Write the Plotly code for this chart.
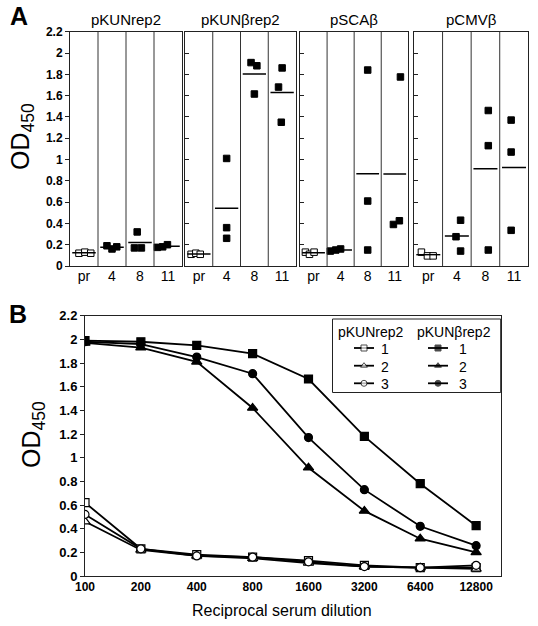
import math
import plotly.graph_objects as go

W, H = 538, 626


def fx(p):
    return p / W


def fy(p):
    return 1 - p / H


# ---------------- Panel A data ----------------
constructs = ["pKUNrep2", "pKUNβrep2", "pSCAβ", "pCMVβ"]
timepoints = ["pr", "4", "8", "11"]
od_pKUNrep2 = [[0.12, 0.13, 0.12], [0.19, 0.16, 0.18], [0.32, 0.17, 0.17], [0.175, 0.18, 0.20]]
od_pKUNbrep2 = [[0.11, 0.12, 0.11], [1.01, 0.36, 0.26], [1.91, 1.88, 1.615], [1.86, 1.68, 1.35]]
od_pSCAb = [[0.13, 0.11, 0.13], [0.14, 0.15, 0.16], [1.84, 0.61, 0.15], [1.775, 0.39, 0.425]]
od_pCMVb = [[0.13, 0.095, 0.095], [0.43, 0.275, 0.14], [1.46, 1.13, 0.15], [1.37, 1.07, 0.335]]
panel_a_values = [od_pKUNrep2, od_pKUNbrep2, od_pSCAb, od_pCMVb]

# ---------------- Panel B data ----------------
dilutions = [100, 200, 400, 800, 1600, 3200, 6400, 12800]
dilution_labels = ["100", "200", "400", "800", "1600", "3200", "6400", "12800"]
rep2_1 = [0.62, 0.23, 0.18, 0.16, 0.13, 0.09, 0.07, 0.07]
rep2_2 = [0.46, 0.22, 0.17, 0.15, 0.11, 0.08, 0.07, 0.06]
rep2_3 = [0.52, 0.23, 0.17, 0.16, 0.12, 0.08, 0.07, 0.09]
brep2_1 = [1.99, 1.98, 1.95, 1.88, 1.665, 1.18, 0.78, 0.425]
brep2_2 = [1.97, 1.93, 1.81, 1.42, 0.915, 0.55, 0.315, 0.20]
brep2_3 = [1.98, 1.96, 1.85, 1.71, 1.17, 0.73, 0.42, 0.256]
legend_groups = ["pKUNrep2", "pKUNβrep2"]
legend_items = ["1", "2", "3"]

# ---------------- styles / layout helpers ----------------
FONT = "Liberation Sans"
jitter = [
    [[-0.18, 0.03, 0.24], [-0.18, 0.0, 0.17], [-0.1, -0.2, 0.05], [-0.38, -0.19, -0.02]],
    [[-0.28, -0.11, 0.05], [0.0, 0.0, 0.0], [-0.12, 0.09, 0.0], [0.0, -0.13, -0.03]],
    [[-0.3, -0.15, 0.02], [-0.38, -0.18, 0.0], [0.0, 0.0, 0.0], [0.21, -0.05, 0.17]],
    [[-0.24, -0.03, 0.17], [0.13, -0.03, 0.13], [0.1, 0.1, 0.1], [-0.1, -0.1, -0.1]],
]
a_xdomains = [(70, 182), (185, 296), (300, 408.3), (414, 528.3)]
a_ydomain = (fy(266), fy(31.7))
b_xdomain = (fx(85), fx(500.7))
b_ydomain = (fy(576), fy(315.7))

fig = go.Figure()
shapes = []
annotations = []

for k, (name, vals) in enumerate(zip(constructs, panel_a_values)):
    n = k + 1
    xa = "x" if n == 1 else f"x{n}"
    ya = "y" if n == 1 else f"y{n}"
    for i, group in enumerate(vals):
        xs = [i + jitter[k][i][j] for j in range(len(group))]
        is_pre = timepoints[i] == "pr"
        fig.add_trace(go.Scatter(
            x=xs, y=group, mode="markers", xaxis=xa, yaxis=ya, showlegend=False,
            marker=dict(symbol="square", size=6.5,
                        color="white" if is_pre else "black",
                        line=dict(color="black", width=1)),
        ))
        mean = sum(group) / len(group)
        shapes.append(dict(type="line", xref=xa, yref=ya, x0=i - 0.42, x1=i + 0.42,
                           y0=mean, y1=mean, line=dict(color="black", width=1.5)))
    for d in [0.5, 1.5, 2.5]:
        shapes.append(dict(type="line", xref=xa, yref=f"{ya} domain", x0=d, x1=d,
                           y0=0, y1=1, line=dict(color="#333", width=1)))
    xkey = "xaxis" if n == 1 else f"xaxis{n}"
    ykey = "yaxis" if n == 1 else f"yaxis{n}"
    dom = a_xdomains[k]
    fig.update_layout({
        xkey: dict(domain=[fx(dom[0]), fx(dom[1])], range=[-0.5, 3.5], anchor=ya,
                   automargin=False,
                   tickmode="array", tickvals=list(range(len(timepoints))), ticktext=timepoints,
                   ticks="", showgrid=False, zeroline=False, showline=True, mirror=True,
                   linecolor="#222", linewidth=1, ticklabelstandoff=-3,
                   tickfont=dict(family=FONT, size=14, color="black")),
        ykey: dict(domain=list(a_ydomain), range=[0, 2.2], anchor=xa, dtick=0.2, tick0=0,
                   automargin=False,
                   showgrid=False, zeroline=False, showline=True, mirror=True,
                   linecolor="#222", linewidth=1,
                   ticks="outside" if n == 1 else "inside", ticklen=4,
                   tickcolor="#222", showticklabels=(n == 1),
                   tickfont=dict(family=FONT, size=12, color="black", weight="bold")),
    })
    annotations.append(dict(text=name, x=fx((dom[0] + dom[1]) / 2), y=fy(20),
                            xanchor="center", yanchor="middle",
                            font=dict(family=FONT, size=15, color="black")))

# Panel B traces
b_series = [
    (rep2_1, "square", 8, False),
    (rep2_2, "triangle-up", 9, False),
    (rep2_3, "circle", 8, False),
    (brep2_1, "square", 8, True),
    (brep2_2, "triangle-up", 9, True),
    (brep2_3, "circle", 8, True),
]
for ys, sym, sz, filled in b_series:
    fig.add_trace(go.Scatter(
        x=dilutions, y=ys, mode="lines+markers", showlegend=False,
        xaxis="x5", yaxis="y5",
        line=dict(color="black", width=1.8),
        marker=dict(symbol=sym, size=sz,
                    color="black" if filled else "white",
                    line=dict(color="black", width=1.2)),
    ))

fig.update_layout(
    xaxis5=dict(domain=list(b_xdomain), type="log", anchor="y5", automargin=False,
                range=[math.log10(100), math.log10(12800) + 0.44 * math.log10(2)],
                tickmode="array", tickvals=dilutions, ticktext=dilution_labels,
                ticks="", showgrid=False, zeroline=False, showline=True, mirror=True,
                linecolor="#222", linewidth=1,
                tickfont=dict(family=FONT, size=12, color="black", weight="bold")),
    yaxis5=dict(domain=list(b_ydomain), range=[0, 2.2], anchor="x5", dtick=0.2, tick0=0,
                automargin=False,
                showgrid=False, zeroline=False, showline=True, mirror=True,
                linecolor="#222", linewidth=1, ticks="outside", ticklen=4, tickcolor="#222",
                tickfont=dict(family=FONT, size=13, color="black", weight="bold")),
)

# ---- hand-built two-column legend (overlay axis in pixel units) ----
fig.update_layout(
    xaxis6=dict(domain=[0, 1], range=[0, W], visible=False, fixedrange=True, anchor="y6",
                automargin=False),
    yaxis6=dict(domain=[0, 1], range=[H, 0], visible=False, fixedrange=True, anchor="x6",
                automargin=False),
)
leg_cols = [(336, 364, 385), (415, 438, 463)]   # header-left, sample centre, number centre
leg_rows = [348, 365.7, 383.3]
for c, (grp, (hx, mx, nx)) in enumerate(zip(legend_groups, leg_cols)):
    annotations.append(dict(text=grp, x=fx(hx), y=fy(332), xanchor="left", yanchor="middle",
                            font=dict(family=FONT, size=14, color="black")))
    for r, item in enumerate(legend_items):
        _, sym, _, filled = b_series[c * 3 + r]
        ry = leg_rows[r]
        fig.add_trace(go.Scatter(
            x=[mx - 10, mx, mx + 10], y=[ry, ry, ry], mode="lines+markers",
            xaxis="x6", yaxis="y6", showlegend=False, hoverinfo="skip",
            line=dict(color="black", width=1.8),
            marker=dict(symbol=sym, size=[0, 6, 0],
                        color="black" if filled else "white",
                        line=dict(color="black", width=[0, 1, 0])),
        ))
        annotations.append(dict(text=item, x=fx(nx), y=fy(ry + 1), xanchor="center",
                                yanchor="middle",
                                font=dict(family=FONT, size=14, color="black")))
shapes.append(dict(type="rect", xref="paper", yref="paper", x0=fx(332.5), x1=fx(500.7),
                   y0=fy(392.5), y1=fy(319), line=dict(color="#222", width=1)))

# Panel labels and axis titles
annotations += [
    dict(text="<b>A</b>", x=fx(8), y=fy(16), xanchor="left", yanchor="middle",
         font=dict(family=FONT, size=25, color="black")),
    dict(text="<b>B</b>", x=fx(7), y=fy(314), xanchor="left", yanchor="middle",
         font=dict(family=FONT, size=25, color="black")),
    dict(text="OD<sub>450</sub>", x=fx(22), y=fy(137), textangle=-90, xanchor="center",
         yanchor="middle", font=dict(family=FONT, size=25, color="black")),
    dict(text="OD<sub>450</sub>", x=fx(33), y=fy(435), textangle=-90, xanchor="center",
         yanchor="middle", font=dict(family=FONT, size=25, color="black")),
    dict(text="Reciprocal serum dilution", x=fx(282), y=fy(610), xanchor="center",
         yanchor="middle", font=dict(family=FONT, size=16, color="black")),
]
for a in annotations:
    a.setdefault("xref", "paper")
    a.setdefault("yref", "paper")
    a["showarrow"] = False

fig.update_layout(
    width=W, height=H, autosize=False,
    margin=dict(l=0, r=0, t=0, b=0, pad=0, autoexpand=False),
    paper_bgcolor="white", plot_bgcolor="rgba(0,0,0,0)",
    shapes=shapes, annotations=annotations, showlegend=False,
)

fig.write_html(
    "out.html",
    config={"displayModeBar": False},
    post_script="document.body.style.margin='0';document.body.style.overflow='hidden';",
)
